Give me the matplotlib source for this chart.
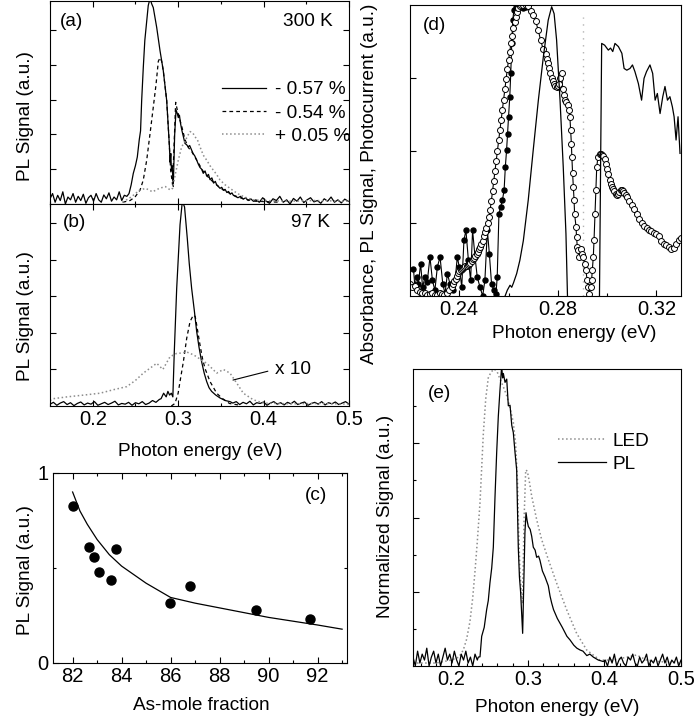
import numpy as np
import matplotlib
matplotlib.use('Agg')
import matplotlib.pyplot as plt
from matplotlib.ticker import MultipleLocator, FixedLocator, NullFormatter

plt.rcParams['font.family'] = ['Liberation Sans', 'DejaVu Sans']
plt.rcParams['font.size'] = 13.7

# ===================================================================
# (a) PL at 300 K for three strain values
# ===================================================================
a_left_E = np.linspace(0.150, 0.240, 31)
a_left_sol = [0.15, 0.30, 0.05, 0.25, 0.10, 0.35, 0.00, 0.20, 0.12, 0.30, 0.05, 0.22, 0.10, 0.28, 0.02,
              0.18, 0.25, 0.08, 0.30, 0.12, 0.05, 0.26, 0.15, 0.32, 0.08, 0.20, 0.12, 0.35, 0.10, 0.25, 0.22]
a_sol_E = [0.2425, 0.2450, 0.2475, 0.2500, 0.2522, 0.2545, 0.2560, 0.2573, 0.2592, 0.2610, 0.2632, 0.2650,
           0.2671, 0.2690, 0.2709, 0.2730, 0.2749, 0.2770, 0.2788, 0.2808, 0.2826, 0.2846, 0.2866, 0.2882,
           0.2896, 0.2906, 0.2914, 0.2922, 0.2930, 0.2943, 0.2951, 0.2959, 0.2975, 0.2990, 0.3002, 0.3015,
           0.3029, 0.3045, 0.3060, 0.3080, 0.3100, 0.3119, 0.3135, 0.3158, 0.3175, 0.3195, 0.3217, 0.3235,
           0.3255, 0.3275, 0.3294, 0.3315, 0.3335, 0.3355, 0.3373, 0.3395, 0.3415, 0.3435, 0.3451, 0.3470,
           0.3490, 0.3510, 0.3529, 0.3550, 0.3570, 0.3590, 0.3610, 0.3630, 0.3646, 0.3670, 0.3700, 0.3730,
           0.3763, 0.3790, 0.3820, 0.3850, 0.3880]
a_sol = [0.30, 0.55, 0.88, 1.10, 1.35, 1.85, 2.10, 2.97, 3.92, 4.70, 5.26, 5.70, 5.90, 5.75, 5.64, 5.35,
         5.07, 4.70, 4.40, 4.10, 3.83, 3.40, 2.97, 2.30, 1.74, 1.20, 1.45, 0.95, 1.10, 0.50, 1.30, 1.97,
         2.70, 2.60, 2.48, 2.55, 2.30, 2.10, 1.95, 1.74, 1.70, 1.64, 1.68, 1.55, 1.45, 1.38, 1.26, 1.15,
         1.05, 1.00, 0.88, 0.95, 0.80, 0.85, 0.70, 0.75, 0.60, 0.65, 0.55, 0.50, 0.45, 0.48, 0.40, 0.42,
         0.33, 0.36, 0.28, 0.32, 0.25, 0.22, 0.18, 0.22, 0.14, 0.18, 0.10, 0.15, 0.08]
a_right_E = np.linspace(0.391, 0.499, 28)
a_right_sol = [0.12, 0.05, 0.18, 0.08, 0.02, 0.15, 0.10, 0.22, 0.05, 0.12, 0.00, 0.16, 0.08, 0.20,
               0.04, 0.12, 0.18, 0.06, 0.10, 0.02, 0.15, 0.08, 0.20, 0.05, 0.12, 0.03, 0.14, 0.08]

a_dash_E = [0.2350, 0.2437, 0.2495, 0.2554, 0.2592, 0.2632, 0.2671, 0.2709, 0.2741, 0.2768, 0.2788, 0.2807,
            0.2826, 0.2846, 0.2866, 0.2896, 0.2912, 0.2935, 0.2951, 0.2971, 0.2990, 0.3010, 0.3040, 0.3080,
            0.3120, 0.3160, 0.3220, 0.3290, 0.3370, 0.3450, 0.3530, 0.3650, 0.3760, 0.3900, 0.4200]
a_dash = [0.05, 0.10, 0.20, 0.40, 0.69, 1.26, 2.02, 2.78, 3.43, 4.10, 4.20, 4.10, 3.83, 3.40, 2.97, 1.74,
          0.97, 0.55, 1.60, 2.92, 2.70, 2.50, 2.25, 1.85, 1.62, 1.50, 1.25, 0.95, 0.72, 0.55, 0.40, 0.25,
          0.15, 0.08, 0.05]

a_dot_E = [0.2350, 0.2450, 0.2550, 0.2620, 0.2700, 0.2780, 0.2850, 0.2910, 0.2935, 0.2959, 0.3002, 0.3041,
           0.3080, 0.3110, 0.3139, 0.3170, 0.3197, 0.3225, 0.3256, 0.3295, 0.3334, 0.3373, 0.3412, 0.3450,
           0.3490, 0.3550, 0.3607, 0.3665, 0.3724, 0.3800, 0.3880, 0.4000, 0.4300, 0.4600, 0.5000]
a_dot = [0.05, 0.20, 0.40, 0.45, 0.35, 0.45, 0.50, 0.40, 0.45, 0.76, 1.26, 1.64, 1.80, 1.95, 2.08, 2.05,
         1.93, 1.85, 1.64, 1.40, 1.26, 1.10, 0.97, 0.85, 0.69, 0.55, 0.45, 0.35, 0.26, 0.18, 0.12, 0.10,
         0.08, 0.10, 0.08]
a_labels = ['- 0.57 %', '- 0.54 %', '+ 0.05 %']

# ===================================================================
# (b) PL at 97 K
# ===================================================================
b_left_E = np.linspace(0.150, 0.278, 33)
b_left_sol = [0.05, 0.10, 0.02, 0.08, 0.12, 0.04, 0.09, 0.01, 0.07, 0.11, 0.03, 0.08, 0.05, 0.12, 0.02,
              0.06, 0.10, 0.04, 0.08, 0.13, 0.03, 0.07, 0.05, 0.10, 0.02, 0.09, 0.06, 0.12, 0.04, 0.08,
              0.15, 0.10, 0.18]
b_sol_E = [0.2800, 0.2830, 0.2860, 0.2880, 0.2900, 0.2920, 0.2938, 0.2955, 0.2983, 0.3022, 0.3049, 0.3075,
           0.3107, 0.3130, 0.3158, 0.3190, 0.3217, 0.3245, 0.3275, 0.3305, 0.3334, 0.3362, 0.3392, 0.3440,
           0.3490, 0.3550, 0.3607]
b_sol = [0.20, 0.35, 0.25, 0.40, 0.30, 0.35, 0.25, 1.49, 3.22, 4.96, 5.60, 5.45, 4.59, 3.90, 3.22, 2.60,
         2.04, 1.60, 1.21, 0.90, 0.67, 0.50, 0.40, 0.30, 0.22, 0.15, 0.12]
b_right_E = np.linspace(0.364, 0.500, 35)
b_right_sol = [0.08, 0.12, 0.04, 0.10, 0.06, 0.13, 0.03, 0.09, 0.07, 0.11, 0.02, 0.08, 0.12, 0.05, 0.09,
               0.03, 0.10, 0.06, 0.13, 0.04, 0.08, 0.11, 0.02, 0.07, 0.10, 0.05, 0.12, 0.03, 0.09, 0.06,
               0.11, 0.04, 0.08, 0.12, 0.05]
b_dash_E = [0.2920, 0.2963, 0.3000, 0.3022, 0.3061, 0.3100, 0.3139, 0.3178, 0.3200, 0.3217, 0.3256, 0.3285,
            0.3314, 0.3373, 0.3451, 0.3510, 0.3600, 0.3700]
b_dash = [0.00, 0.07, 0.35, 0.67, 1.21, 1.85, 2.31, 2.49, 2.45, 2.22, 1.67, 1.30, 1.03, 0.67, 0.35, 0.22,
          0.07, 0.03]
b_dot_E = [0.1500, 0.1539, 0.1700, 0.1900, 0.2085, 0.2250, 0.2398, 0.2500, 0.2592, 0.2680, 0.2749, 0.2821,
           0.2905, 0.2983, 0.3040, 0.3099, 0.3160, 0.3217, 0.3275, 0.3334, 0.3400, 0.3451, 0.3529, 0.3607,
           0.3685, 0.3763, 0.3880, 0.4000, 0.4300, 0.4700, 0.5000]
b_dot = [0.15, 0.20, 0.25, 0.30, 0.35, 0.45, 0.53, 0.70, 0.90, 1.05, 1.17, 1.00, 1.35, 1.44, 1.45, 1.48,
         1.42, 1.35, 1.25, 1.17, 1.02, 0.90, 1.00, 0.90, 0.63, 0.35, 0.17, 0.08, 0.06, 0.07, 0.05]

# ===================================================================
# (c) PL intensity vs As mole fraction
# ===================================================================
c_x = [82.0, 82.65, 82.87, 83.06, 83.58, 83.77, 85.97, 86.78, 89.47, 91.67]
c_y = [0.825, 0.61, 0.557, 0.478, 0.435, 0.60, 0.316, 0.403, 0.279, 0.23]
c_fit_x = [82.0, 82.15, 82.3, 82.6, 83.0, 83.5, 84.0, 84.5, 85.0, 86.0, 87.0, 88.0, 89.0, 90.0, 91.0, 92.0, 93.0]
c_fit_y = [0.90, 0.85, 0.80, 0.73, 0.65, 0.57, 0.51, 0.465, 0.42, 0.345, 0.315, 0.29, 0.265, 0.24, 0.22,
           0.20, 0.178]

# ===================================================================
# (d) absorbance (open), photocurrent (filled), PL (line)
# ===================================================================
d_open_E = (list(np.linspace(0.220, 0.237, 18)) + list(np.linspace(0.2375, 0.265, 56)) +
            [0.266, 0.267, 0.268, 0.269, 0.270, 0.271, 0.272, 0.273, 0.274, 0.275, 0.2755, 0.276, 0.2765,
             0.277, 0.2775, 0.278, 0.2785, 0.279, 0.2795, 0.280, 0.2805, 0.281, 0.2815, 0.282, 0.2825,
             0.283, 0.2835, 0.284,
             0.2847, 0.2849, 0.2852, 0.2855, 0.2857, 0.2860, 0.2863, 0.2866, 0.2868, 0.2874, 0.2876,
             0.2879, 0.2883, 0.2887, 0.2893, 0.2898, 0.2903, 0.2910, 0.2914, 0.2919, 0.2923, 0.2927,
             0.2933, 0.2937, 0.2940, 0.2944, 0.2947, 0.2951, 0.2955, 0.2958, 0.2963,
             0.2970, 0.2975, 0.2980, 0.2985, 0.2990, 0.2995, 0.3000, 0.3005, 0.3010, 0.3015, 0.3020,
             0.3025, 0.3030, 0.3035, 0.3040, 0.3045, 0.3050, 0.3055, 0.3060, 0.3065, 0.3070, 0.3075,
             0.3080] + list(np.linspace(0.309, 0.330, 22)))
d_open = ([0.04, 0.03, 0.035, 0.02, 0.015, 0.01, 0.012, 0.005, 0.006, 0.01, 0.005, 0.004, 0.01, 0.008,
           0.005, 0.01, 0.02, 0.03] +
          [0.04, 0.05, 0.06, 0.07, 0.078, 0.085, 0.09, 0.094, 0.097, 0.10, 0.102, 0.104, 0.107, 0.11,
           0.115, 0.12, 0.126, 0.132, 0.138, 0.145, 0.152, 0.16, 0.168, 0.178, 0.19, 0.205, 0.22, 0.235,
           0.25, 0.27, 0.295, 0.325, 0.36, 0.395, 0.43, 0.465, 0.50, 0.535, 0.57, 0.605, 0.64, 0.675,
           0.71, 0.745, 0.78, 0.81, 0.84, 0.87, 0.895, 0.92, 0.94, 0.96, 0.975, 0.99, 0.995, 1.0] +
          [1.0, 1.0, 0.995, 0.98, 0.965, 0.945, 0.915, 0.88, 0.85, 0.83, 0.816, 0.80, 0.785, 0.765, 0.748,
           0.738, 0.73, 0.722, 0.717, 0.72, 0.73, 0.75, 0.767, 0.713, 0.69, 0.675, 0.665, 0.656,
           0.639, 0.616, 0.57, 0.524, 0.478, 0.421, 0.375, 0.329, 0.283, 0.237, 0.203, 0.169, 0.157,
           0.134, 0.163, 0.146, 0.134, 0.111, 0.088, 0.054, 0.031, 0.008, 0.031, 0.054, 0.088, 0.134,
           0.192, 0.283, 0.364, 0.444, 0.478,
           0.487, 0.488, 0.485, 0.48, 0.47, 0.455, 0.435, 0.42, 0.40, 0.385, 0.375, 0.367, 0.36, 0.352,
           0.348, 0.35, 0.357, 0.364, 0.365, 0.36, 0.353, 0.346, 0.34] +
          [0.325, 0.312, 0.298, 0.282, 0.265, 0.25, 0.24, 0.233, 0.227, 0.222, 0.218, 0.214, 0.205, 0.19,
           0.18, 0.174, 0.167, 0.163, 0.165, 0.178, 0.193, 0.2])

d_fill_E = [0.2214, 0.2220, 0.2227, 0.2234, 0.2243, 0.2251, 0.2261, 0.2270, 0.2281, 0.2291, 0.2301, 0.2311,
            0.2322, 0.2333, 0.2342, 0.2352, 0.2362, 0.2373, 0.2383, 0.2392, 0.2400, 0.2410, 0.2419, 0.2427,
            0.2437, 0.2446, 0.2454, 0.2464, 0.2473, 0.2484, 0.2495, 0.2504, 0.2514, 0.2522, 0.2531, 0.2541,
            0.2549, 0.2554, 0.2561, 0.2568, 0.2575, 0.2582, 0.2587, 0.2592, 0.2596, 0.2600, 0.2605, 0.2609,
            0.2613, 0.2617, 0.2622, 0.2630, 0.2640, 0.2649, 0.2660, 0.2671]
d_fill = [0.094, 0.031, 0.065, 0.042, 0.111, 0.031, 0.065, 0.048, 0.134, 0.054, 0.019, 0.100, 0.134, 0.042,
          0.008, 0.077, 0.042, 0.019, 0.054, 0.134, 0.100, 0.031, 0.192, 0.226, 0.123, 0.054, 0.226, 0.134,
          0.065, 0.031, 0.000, 0.054, 0.226, 0.146, 0.042, 0.019, 0.008, 0.065, 0.283, 0.306, 0.329, 0.364,
          0.444, 0.501, 0.558, 0.616, 0.685, 0.765, 0.868, 0.948, 0.983, 0.994, 0.989, 1.000, 0.989, 0.994]

d_pl_E = [0.2586, 0.2595, 0.2606, 0.2613, 0.2620, 0.2633, 0.2646, 0.2660, 0.2680, 0.2700, 0.2721, 0.2741,
          0.2761, 0.2775, 0.2785, 0.2795, 0.2809, 0.2822, 0.2833, 0.2845, 0.2967, 0.2978, 0.2990, 0.3005,
          0.3014, 0.3023, 0.3032, 0.3046, 0.3060, 0.3069, 0.3080, 0.3093, 0.3103, 0.3113, 0.3127, 0.3140,
          0.3150, 0.3160, 0.3174, 0.3185, 0.3195, 0.3204, 0.3215, 0.3226, 0.3235, 0.3245, 0.3255, 0.3265,
          0.3272, 0.3280, 0.3288, 0.3296]
d_pl = [0.0, 0.02, 0.037, 0.03, 0.045, 0.077, 0.123, 0.19, 0.33, 0.50, 0.673, 0.82, 0.948, 0.994, 0.97,
        0.88, 0.673, 0.444, 0.214, -0.2, -0.2, 0.868, 0.862, 0.845, 0.852, 0.84, 0.868, 0.857, 0.834, 0.782,
        0.776, 0.782, 0.794, 0.771, 0.73, 0.673, 0.748, 0.771, 0.794, 0.765, 0.673, 0.696, 0.627, 0.685,
        0.72, 0.673, 0.685, 0.65, 0.616, 0.536, 0.616, 0.49]
d_marker_E = 0.2903

# ===================================================================
# (e) LED vs PL, normalized
# ===================================================================
e_left_E = np.linspace(0.150, 0.234, 29)
e_left_pl = [0.03, 0.00, 0.05, 0.01, 0.04, 0.02, 0.06, 0.00, 0.03, 0.05, 0.01, 0.04, 0.00, 0.03, 0.06,
             0.02, 0.04, 0.01, 0.05, 0.02, 0.00, 0.04, 0.02, 0.05, 0.01, 0.03, 0.00, 0.04, 0.02]
e_pl_E = [0.2353, 0.2375, 0.2397, 0.2430, 0.2462, 0.2483, 0.2505, 0.2528, 0.2549, 0.2571, 0.2593, 0.2614,
          0.2636, 0.2658, 0.2670, 0.2680, 0.2702, 0.2724, 0.2745, 0.2767, 0.2790, 0.2810, 0.2832, 0.2854,
          0.2875, 0.2890, 0.2905, 0.2919, 0.2932, 0.2940, 0.2950, 0.2962, 0.2976, 0.2990, 0.3006, 0.3030,
          0.3050, 0.3071, 0.3095, 0.3115, 0.3140, 0.3158, 0.3190, 0.3224, 0.3245, 0.3267, 0.3290, 0.3311,
          0.3335, 0.3360, 0.3385, 0.3420, 0.3450, 0.3480, 0.3510, 0.3550, 0.3600, 0.3640, 0.3681, 0.3720,
          0.3770, 0.3810, 0.3855, 0.3920, 0.3985]
e_pl = [0.03, 0.031, 0.10, 0.13, 0.19, 0.22, 0.28, 0.33, 0.40, 0.57, 0.72, 0.84, 0.93, 1.01, 0.97, 0.985,
        0.955, 0.966, 0.876, 0.878, 0.81, 0.786, 0.72, 0.66, 0.40, 0.30, 0.25, 0.178, 0.11, 0.20, 0.324,
        0.45, 0.516, 0.49, 0.47, 0.46, 0.437, 0.40, 0.39, 0.366, 0.37, 0.356, 0.32, 0.30, 0.285, 0.27,
        0.235, 0.212, 0.19, 0.175, 0.16, 0.144, 0.13, 0.115, 0.10, 0.088, 0.07, 0.06, 0.054, 0.05, 0.035,
        0.04, 0.03, 0.02, 0.015]
e_right_E = np.linspace(0.401, 0.500, 34)
e_right_pl = [0.02, 0.00, 0.03, 0.01, 0.04, 0.00, 0.02, 0.03, 0.01, 0.00, 0.03, 0.02, 0.04, 0.01, 0.00,
              0.03, 0.01, 0.02, 0.04, 0.00, 0.02, 0.01, 0.03, 0.00, 0.02, 0.04, 0.01, 0.03, 0.00, 0.02,
              0.01, 0.03, 0.00, 0.02]
e_led_E = [0.1500, 0.1800, 0.2000, 0.2100, 0.2157, 0.2200, 0.2244, 0.2280, 0.2310, 0.2340, 0.2375, 0.2418,
           0.2450, 0.2483, 0.2520, 0.2560, 0.2600, 0.2630, 0.2680, 0.2724, 0.2767, 0.2810, 0.2840, 0.2865,
           0.2880, 0.2900, 0.2927, 0.2940, 0.2950, 0.2972, 0.2993, 0.3020, 0.3050, 0.3115, 0.3180, 0.3268,
           0.3376, 0.3506, 0.3637, 0.3768, 0.3940, 0.4100, 0.4300, 0.4420, 0.4550, 0.4700, 0.5000]
e_led = [0.01, 0.01, 0.02, 0.03, 0.054, 0.09, 0.15, 0.23, 0.32, 0.42, 0.55, 0.78, 0.90, 0.97, 0.99, 1.00,
         0.99, 0.97, 0.94, 0.91, 0.87, 0.82, 0.75, 0.62, 0.45, 0.30, 0.21, 0.35, 0.49, 0.66, 0.656, 0.62,
         0.572, 0.493, 0.426, 0.358, 0.279, 0.19, 0.11, 0.054, 0.02, 0.02, 0.03, 0.037, 0.02, 0.015, 0.01]


def style(ax, top=True, right=True):
    ax.tick_params(which='both', direction='in', top=top, right=right, pad=3, labelsize=14.5)
    ax.tick_params(which='major', length=4, width=0.8)
    ax.tick_params(which='minor', length=2.5, width=0.8)
    for s in ax.spines.values():
        s.set_linewidth(0.8)


W, H = 695, 726
fig = plt.figure(figsize=(W / 100, H / 100), dpi=100)
gray = '0.55'

# ---- (a) ----
axa = fig.add_axes([50 / W, 1 - 204 / H, 299 / W, 203 / H])
la, = axa.plot(np.r_[a_left_E, a_sol_E, a_right_E], np.r_[a_left_sol, a_sol, a_right_sol], color='k', lw=0.9)
lb, = axa.plot(a_dash_E, a_dash, color='k', lw=0.9, dashes=(3, 2.5))
lc, = axa.plot(a_dot_E, a_dot, color=gray, lw=1.1, ls=':')
axa.set_xlim(0.15, 0.5)
axa.set_ylim(0, 5.83)
axa.xaxis.set_major_locator(MultipleLocator(0.1))
axa.xaxis.set_minor_locator(MultipleLocator(0.05))
axa.yaxis.set_major_locator(FixedLocator([1, 2, 3, 4, 5]))
axa.xaxis.set_major_formatter(NullFormatter())
axa.yaxis.set_major_formatter(NullFormatter())
style(axa)
axa.text(0.033, 0.897, '(a)', transform=axa.transAxes, ha='left', va='center')
axa.text(0.946, 0.897, '300 K', transform=axa.transAxes, ha='right', va='center')
axa.legend([la, lb, lc], a_labels, loc='center left', bbox_to_anchor=(0.575, 0.448), frameon=False,
           handlelength=2.3, handletextpad=0.5, labelspacing=0.32, borderpad=0, borderaxespad=0)

# ---- (b) ----
axb = fig.add_axes([50 / W, 1 - 406 / H, 299 / W, 202 / H])
axb.plot(np.r_[b_left_E, b_sol_E, b_right_E], np.r_[b_left_sol, b_sol, b_right_sol], color='k', lw=0.9)
axb.plot(b_dash_E, b_dash, color='k', lw=0.9, dashes=(3, 2.5))
axb.plot(b_dot_E, b_dot, color=gray, lw=1.1, ls=':')
axb.set_xlim(0.15, 0.5)
axb.set_ylim(0, 5.53)
axb.xaxis.set_major_locator(MultipleLocator(0.1))
axb.xaxis.set_minor_locator(MultipleLocator(0.05))
axb.yaxis.set_major_locator(FixedLocator([1, 2, 3, 4, 5]))
axb.yaxis.set_major_formatter(NullFormatter())
axb.set_xticks([0.2, 0.3, 0.4, 0.5], ['0.2', '0.3', '0.4', '0.5'])
style(axb)
axb.text(0.043, 0.906, '(b)', transform=axb.transAxes, ha='left', va='center')
axb.text(0.936, 0.906, '97 K', transform=axb.transAxes, ha='right', va='center')
axb.annotate('x 10', xy=(0.3642, 0.71), xytext=(0.413, 1.0), ha='left', va='center',
             arrowprops=dict(arrowstyle='-', lw=0.8, color='k', relpos=(0, 0.5), shrinkA=3, shrinkB=0))

# ---- (c) ----
axc = fig.add_axes([53 / W, 1 - 663 / H, 294 / W, 190 / H])
axc.plot(c_fit_x, c_fit_y, color='k', lw=0.9)
axc.plot(c_x, c_y, 'o', color='k', ms=6.5)
axc.set_xlim(81.2, 93.2)
axc.set_ylim(0, 1)
axc.xaxis.set_major_locator(MultipleLocator(2))
axc.xaxis.set_minor_locator(MultipleLocator(1))
axc.set_yticks([0, 1], ['0', '1'])
axc.yaxis.set_minor_locator(FixedLocator([0.5]))
style(axc)
axc.text(0.857, 0.884, '(c)', transform=axc.transAxes, ha='left', va='center')

# ---- (d) ----
axd = fig.add_axes([410 / W, 1 - 296 / H, 271 / W, 291 / H])
axd.axvline(d_marker_E, ymax=0.96, color='0.7', lw=1, ls=(0, (1, 4)))
axd.plot(d_fill_E, d_fill, '-o', color='k', lw=0.8, ms=3.6)
axd.plot(d_open_E, d_open, '-o', color='k', lw=0.8, ms=4.3, mfc='white', mec='k', mew=0.7)
axd.plot(d_pl_E, d_pl, color='k', lw=0.9)
axd.set_xlim(0.22, 0.33)
axd.set_ylim(0, 1)
axd.set_xticks([0.24, 0.28, 0.32], ['0.24', '0.28', '0.32'])
axd.xaxis.set_minor_locator(FixedLocator([0.26, 0.30]))
axd.set_yticks([0.25, 0.5, 0.75])
axd.yaxis.set_major_formatter(NullFormatter())
style(axd, top=False, right=False)
axd.text(0.048, 0.931, '(d)', transform=axd.transAxes, ha='left', va='center')

# ---- (e) ----
axe = fig.add_axes([413 / W, 1 - 666 / H, 268 / W, 297 / H])
le, = axe.plot(e_led_E, e_led, color=gray, lw=1.1, ls=':')
lp, = axe.plot(np.r_[e_left_E, e_pl_E, e_right_E], np.r_[e_left_pl, e_pl, e_right_pl], color='k', lw=0.9)
axe.set_xlim(0.15, 0.5)
axe.set_ylim(0, 1)
axe.set_xticks([0.2, 0.3, 0.4, 0.5], ['0.2', '0.3', '0.4', '0.5'])
axe.xaxis.set_minor_locator(MultipleLocator(0.02))
axe.set_yticks([0.25, 0.5, 0.75])
axe.yaxis.set_minor_locator(FixedLocator([0.125, 0.375, 0.625, 0.875]))
axe.yaxis.set_major_formatter(NullFormatter())
style(axe, top=False, right=False)
axe.text(0.056, 0.919, '(e)', transform=axe.transAxes, ha='left', va='center')
axe.legend([le, lp], ['LED', 'PL'], loc='center left', bbox_to_anchor=(0.541, 0.719), frameon=False,
           handlelength=2.5, handletextpad=0.37, labelspacing=0.3, borderpad=0, borderaxespad=0)

# ---- axis labels ----
fig.text(25 / W, 1 - 116 / H, 'PL Signal (a.u.)', rotation=90, ha='center', va='center')
fig.text(25 / W, 1 - 316 / H, 'PL Signal (a.u.)', rotation=90, ha='center', va='center')
fig.text(25 / W, 1 - 570 / H, 'PL Signal (a.u.)', rotation=90, ha='center', va='center')
fig.text(370 / W, 1 - 184 / H, 'Absorbance, PL Signal, Photocurrent (a.u.)', rotation=90, ha='center', va='center')
fig.text(386 / W, 1 - 516 / H, 'Normalized Signal (a.u.)', rotation=90, ha='center', va='center')
fig.text(200 / W, 1 - 452 / H, 'Photon energy (eV)', ha='center', va='center')
fig.text(201 / W, 1 - 705 / H, 'As-mole fraction', ha='center', va='center')
fig.text(574 / W, 1 - 333 / H, 'Photon energy (eV)', ha='center', va='center')
fig.text(557 / W, 1 - 707 / H, 'Photon energy (eV)', ha='center', va='center')

fig.savefig('out.png', dpi=100)
